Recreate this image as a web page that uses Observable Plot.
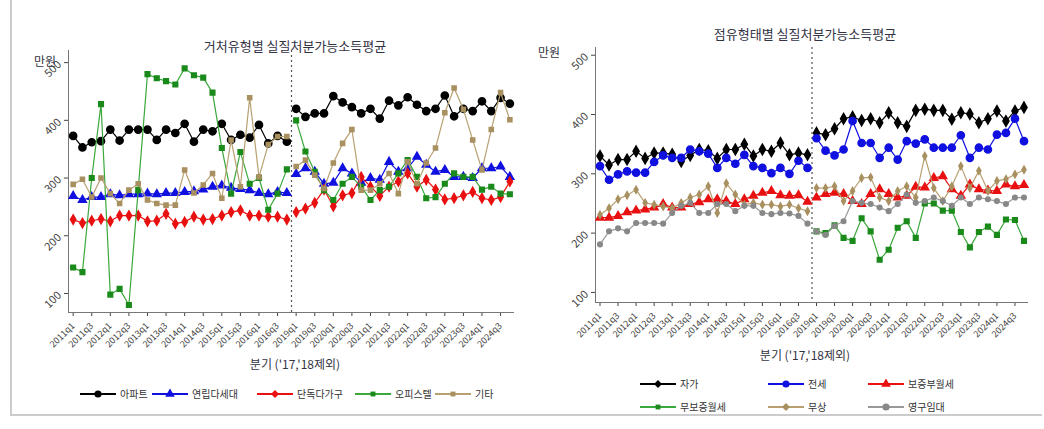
<!DOCTYPE html>
<html><head><meta charset="utf-8">
<script src="https://cdn.jsdelivr.net/npm/d3@7"></script>
<script src="https://cdn.jsdelivr.net/npm/@observablehq/plot@0.6"></script>
<style>
body{margin:0;background:#fff;font-family:"Noto Sans CJK KR","Noto Sans",sans-serif;}
#wrap{position:relative;width:1044px;height:429px;overflow:hidden;}
#frame{position:absolute;left:10px;top:0;width:1030px;height:414px;border-left:2px solid #ccc;border-bottom:2px solid #ccc;}
.p{position:absolute;top:0;}
.t{position:absolute;font-size:13px;color:#334;white-space:nowrap;transform:translateX(-50%);}
.lg{position:absolute;font-size:10px;color:#333;display:flex;align-items:center;white-space:nowrap;}
.lg svg{margin-right:4px;}
</style></head><body>
<div id="wrap"><div id="frame"></div></div>
<script>
const years=[2011,2012,2013,2014,2015,2016,2019,2020,2021,2022,2023,2024];
const quarters=years.flatMap(y=>[1,2,3,4].map(q=>y+"q"+q));

// 거처유형별
const apt=[373,353,362,364,384,365,384,384,384,366,384,378,394,363,384,381,394,366,375,370,392,360,373,363, 420,406,412,412,442,431,423,412,420,403,434,426,440,427,416,420,443,407,420,416,433,416,439,429];
const villa=[269,262,267,267,272,270,272,272,273,272,274,274,276,277,280,285,287,283,281,279,274,272,276,274, 307,317,311,290,292,317,308,292,300,297,328,311,317,337,323,311,314,302,302,300,317,317,320,302];
const house=[228,222,226,229,225,235,235,235,225,226,238,221,224,233,228,229,235,241,244,235,235,233,233,228, 241,247,257,280,251,270,274,302,285,269,285,294,308,285,297,280,263,265,270,276,265,262,267,294];
const office=[145,137,300,428,98,108,80,279,480,473,468,462,490,478,474,448,352,273,345,290,300,245,273,315, 400,346,311,279,262,290,302,285,262,279,285,308,331,302,265,267,290,308,302,302,280,285,273,272];
const etcL=[289,298,267,300,273,256,279,290,262,256,253,253,314,274,288,308,265,366,285,439,302,358,372,372, 320,331,305,282,326,360,384,279,279,290,308,273,328,290,326,352,413,456,419,366,314,384,448,401];

// 점유형태별
const own=[330,315,324,324,338,326,335,335,333,321,331,341,339,326,341,341,350,330,341,338,352,332,335,332, 369,366,376,393,396,390,393,386,403,386,380,407,409,407,407,392,403,401,386,393,406,389,406,412];
const jeonse=[313,290,299,304,302,302,320,331,327,327,341,338,334,310,327,317,332,313,310,301,310,300,322,310, 360,339,331,341,389,352,352,327,344,324,355,351,358,344,344,344,365,327,344,341,366,369,393,355];
const depRent=[226,226,229,235,238,240,243,249,243,243,249,252,257,257,254,249,257,263,268,271,264,263,264,253, 260,266,268,266,254,249,266,274,266,260,263,278,277,293,296,274,263,282,274,272,271,282,279,281];
const noDepRent=[null,null,null,null,null,null,null,null,null,null,null,null,null,null,null,null,null,null,null,null,null,null,null,null, 203,200,213,192,187,225,203,155,172,209,220,192,250,250,238,238,202,176,202,211,197,223,222,187];
const free=[231,242,257,264,273,251,248,245,242,251,260,265,279,234,284,265,248,251,248,248,245,248,242,237, 276,276,279,254,271,293,294,260,254,271,279,260,330,276,254,279,313,276,305,271,288,291,299,307];
const rental=[181,203,208,203,217,217,217,216,234,246,251,234,234,249,249,237,246,246,234,232,234,233,229,216, 203,197,212,220,254,251,249,243,237,249,265,251,254,260,254,246,260,249,260,257,254,249,260,260];

const left=[
 {name:"아파트",v:apt,c:"#000",s:"circle",r:3.6,lc:"#000"},
 {name:"연립다세대",v:villa,c:"#1010e0",s:"triangle",r:2.9,lc:"#1010e0"},
 {name:"단독다가구",v:house,c:"#e81010",s:"diamond",r:2.8,lc:"#e81010"},
 {name:"오피스텔",v:office,c:"#1a8a1a",s:"square",r:2.6,lc:"#3aa83a"},
 {name:"기타",v:etcL,c:"#a89060",s:"square",r:2.3,lc:"#b8a070"}];
const right=[
 {name:"자가",v:own,c:"#000",s:"diamond",r:3.2,lc:"#000"},
 {name:"전세",v:jeonse,c:"#1010e0",s:"circle",r:3.6,lc:"#1010e0"},
 {name:"보증부월세",v:depRent,c:"#e81010",s:"triangle",r:2.9,lc:"#e81010"},
 {name:"무보증월세",v:noDepRent,c:"#1a8a1a",s:"square",r:2.6,lc:"#3aa83a"},
 {name:"무상",v:free,c:"#a89060",s:"diamond",r:2.1,lc:"#b8a070"},
 {name:"영구임대",v:rental,c:"#888",s:"circle",r:2.3,lc:"#999"}];

function panel(series,opt){
  const marks=[
    Plot.ruleX([23.5],{stroke:"#555",strokeDasharray:"2,3",strokeWidth:1.2}),
    Plot.axisY({ticks:[100,200,300,400,500],tickRotate:-45,fontSize:11,color:"#444",tickSize:4,label:null}),
    Plot.axisX({ticks:d3.range(0,48,2),tickFormat:i=>quarters[i],tickRotate:-45,fontSize:9,color:"#444",tickSize:4,label:null}),
    Plot.ruleY([opt.y[0]],{stroke:"#777"}),
    Plot.ruleX([-0.5],{stroke:"#777"})
  ];
  for(const s of series){
    const data=s.v.map((v,i)=>({i,v,seg:i<24?0:1})).filter(d=>d.v!=null);
    marks.push(Plot.line(data,{x:"i",y:"v",z:"seg",stroke:s.lc,strokeWidth:1.2}));
    marks.push(Plot.dot(data,{x:"i",y:"v",symbol:()=>s.s,fill:s.c,stroke:s.c,r:s.r}));
  }
  return Plot.plot({width:opt.w,height:opt.h,marginLeft:opt.ml,marginRight:opt.mr,marginTop:opt.mt,marginBottom:opt.mb,
    x:{type:"linear",domain:[-0.5,47.5]},y:{domain:opt.y},style:{fontFamily:"Noto Sans CJK KR, sans-serif",background:"transparent"},marks});
}
const wrap=document.getElementById("wrap");
function place(el,x,y){el.classList.add("p");el.style.left=x+"px";el.style.top=y+"px";wrap.appendChild(el);}
place(panel(left,{w:520,h:360,ml:68,mr:6,mt:50,mb:48,y:[67,521]}),0,0);
place(panel(right,{w:1040-525,h:350,ml:70,mr:12,mt:47,mb:48,y:[83,513]}),525,0);

function text(t,x,y,size){const d=document.createElement("div");d.className="t";d.textContent=t;d.style.left=x+"px";d.style.top=y+"px";if(size)d.style.fontSize=size+"px";wrap.appendChild(d);}
text("거처유형별 실질처분가능소득평균",295,36);
text("점유형태별 실질처분가능소득평균",805,24);
text("만원",45,52,12);
text("만원",549,43,12);
text("분기 ('17,'18제외)",295,355,12);
text("분기 ('17,'18제외)",805,346,12);

function symPath(s){return d3.symbol(s==="circle"?d3.symbolCircle:s==="triangle"?d3.symbolTriangle:s==="diamond"?d3.symbolDiamond2:d3.symbolSquare2,s==="square"?30:40)();}
function legendItem(s,x,y){
  const d=document.createElement("div");d.className="lg";d.style.left=x+"px";d.style.top=y+"px";
  d.innerHTML=`<svg width="36" height="12"><line x1="0" x2="36" y1="6" y2="6" stroke="${s.lc}" stroke-width="2"/><path transform="translate(18,6)" d="${symPath(s.s)}" fill="${s.c}"/></svg>${s.name}`;
  wrap.appendChild(d);
}
[80,152,257,355,435].forEach((x,k)=>legendItem(left[k],x,386));
const rp=[[640,376],[768,376],[868,376],[640,399],[768,399],[868,399]];
right.forEach((s,k)=>legendItem(s,rp[k][0],rp[k][1]));
</script></body></html>
